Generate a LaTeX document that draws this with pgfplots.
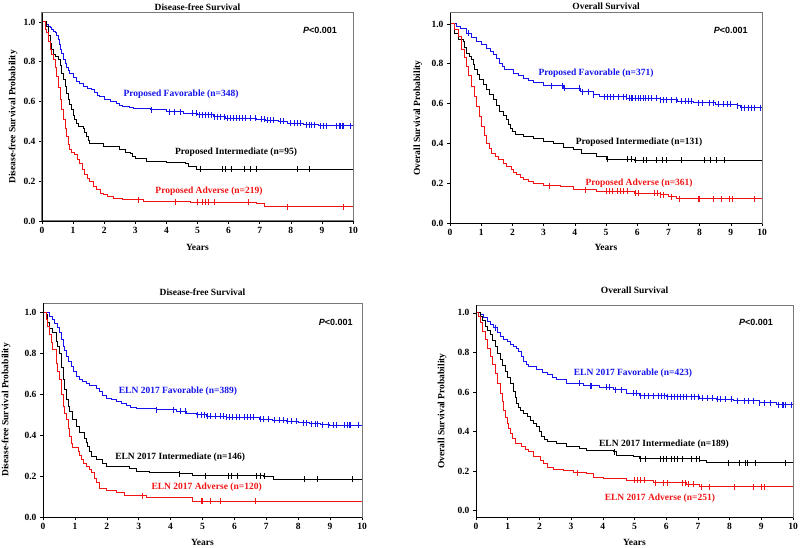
\documentclass[border=0pt]{standalone}
\usepackage{fontspec}
\setmainfont{Liberation Serif}
\setsansfont{Liberation Sans}
\usepackage{pgfplots}
\pgfplotsset{compat=1.18}

\definecolor{kmblue}{RGB}{20,20,235}
\definecolor{kmred}{RGB}{240,20,20}
\definecolor{framegray}{RGB}{120,120,120}
\newcommand\lf{\bfseries\fontsize{9}{11}\selectfont}
\newcommand\tf{\bfseries\fontsize{9.5}{11}\selectfont}
\newcommand\cf{\bfseries\fontsize{9.5}{11}\selectfont}
\newcommand\pf{\sffamily\bfseries\fontsize{9}{11}\selectfont}

\pgfplotsset{
  km/.style={
    scale only axis, anchor=south west,
    xmin=0, xmax=10, ymin=0,
    axis line style={draw=framegray, line width=1pt},
    xtick pos=left, ytick pos=left,
    tick align=outside, major tick length=3pt,
    tick style={black, line width=0.6pt},
    xtick={0,1,2,3,4,5,6,7,8,9,10},
    xticklabels={0,1,2,3,4,5,6,7,8,9,10},
    ytick={0,0.2,0.4,0.6,0.8,1},
    yticklabels={0.0,0.2,0.4,0.6,0.8,1.0},
    tick label style={font=\tf},
    label style={font=\tf},
    every axis title shift=0pt,
    title style={font=\tf, anchor=center},
    xlabel={Years},
    clip=false,
    extra description/.code={
      \draw[framegray, line width=1pt] (0,1) -- (1,1) -- (1,0);
      \draw[black, line width=0.8pt] (0,1) -- (0,0) -- (1,0);},
  },
  kmline/.style={const plot, line width=1pt, mark=none},
  cens/.style={only marks, mark=|, mark size=3pt, mark options={line width=0.7pt}},
}

\begin{document}
\begin{tikzpicture}[x=1pt,y=1pt]
\useasboundingbox (0,0) rectangle (800,547);

% ---- top left: proposed, DFS
\begin{axis}[km, at={(42pt,326pt)}, width=311pt, height=208pt, ymax=1.045,
  title={Disease-free Survival},
  title style={at={(axis description cs:0.5,1.029)}},
  xlabel style={at={(axis description cs:0.5,-0.125)}, anchor=center},
  ylabel={Disease-free Survival Probability},
  ylabel style={at={(axis description cs:-0.093,0.5)}, anchor=center}]
\addplot[kmline, kmblue] coordinates {(0,1)(0.1,1)(0.15,0.985)(0.2,0.975)(0.26,0.97)(0.32,0.962)(0.38,0.952)(0.42,0.945)(0.47,0.93)(0.52,0.91)(0.56,0.885)(0.6,0.86)(0.63,0.84)(0.68,0.81)(0.74,0.79)(0.8,0.77)(0.85,0.755)(0.9,0.74)(1.0,0.72)(1.1,0.70)(1.2,0.69)(1.33,0.676)(1.45,0.666)(1.6,0.66)(1.7,0.645)(1.8,0.632)(1.86,0.626)(2.0,0.61)(2.2,0.60)(2.4,0.59)(2.5,0.582)(2.6,0.575)(2.8,0.57)(2.94,0.567)(3.5,0.56)(4.0,0.55)(4.55,0.542)(5.0,0.534)(5.5,0.525)(5.9,0.517)(6.9,0.512)(7.2,0.505)(7.6,0.5)(7.9,0.49)(8.4,0.483)(8.9,0.478)(10,0.478)};
\addplot[cens, kmblue] coordinates {(3.53,0.56)(4.1,0.55)(4.25,0.55)(4.45,0.55)(4.85,0.542)(4.95,0.542)(5.05,0.534)(5.15,0.534)(5.25,0.534)(5.35,0.534)(5.45,0.534)(5.55,0.525)(5.65,0.525)(5.75,0.525)(5.85,0.525)(5.95,0.517)(6.05,0.517)(6.15,0.517)(6.25,0.517)(6.35,0.517)(6.45,0.517)(6.55,0.517)(6.7,0.517)(6.85,0.517)(7.05,0.512)(7.15,0.512)(7.25,0.505)(7.35,0.505)(7.45,0.505)(7.65,0.5)(7.75,0.5)(8.0,0.49)(8.1,0.49)(8.2,0.49)(8.3,0.49)(8.5,0.483)(8.6,0.483)(8.65,0.483)(8.75,0.483)(8.95,0.478)(9.05,0.478)(9.15,0.478)(9.45,0.478)(9.55,0.478)(9.6,0.478)(9.65,0.478)(9.7,0.478)(9.9,0.478)};
\addplot[kmline, black] coordinates {(0,1)(0.1,1)(0.15,0.978)(0.2,0.93)(0.26,0.894)(0.31,0.86)(0.36,0.835)(0.45,0.825)(0.52,0.81)(0.58,0.78)(0.63,0.74)(0.68,0.71)(0.74,0.676)(0.8,0.64)(0.85,0.61)(0.9,0.585)(0.95,0.56)(1.0,0.53)(1.06,0.508)(1.12,0.49)(1.17,0.475)(1.33,0.466)(1.38,0.445)(1.44,0.424)(1.5,0.405)(1.54,0.39)(1.86,0.388)(1.97,0.374)(2.5,0.357)(2.7,0.345)(2.83,0.337)(2.9,0.325)(3.0,0.315)(3.37,0.30)(4.0,0.294)(4.6,0.287)(4.7,0.273)(4.97,0.26)(10,0.26)};
\addplot[cens, black] coordinates {(5.1,0.26)(5.8,0.26)(5.9,0.26)(6.1,0.26)(6.5,0.26)(6.7,0.26)(6.9,0.26)(8.2,0.26)(8.6,0.26)};
\addplot[kmline, kmred] coordinates {(0,1)(0.08,1)(0.12,0.96)(0.15,0.945)(0.2,0.9)(0.26,0.86)(0.31,0.835)(0.36,0.81)(0.42,0.77)(0.47,0.727)(0.52,0.67)(0.58,0.61)(0.63,0.56)(0.69,0.508)(0.74,0.465)(0.79,0.424)(0.85,0.385)(0.9,0.357)(0.95,0.345)(1.06,0.332)(1.15,0.31)(1.22,0.29)(1.3,0.26)(1.38,0.232)(1.46,0.215)(1.54,0.198)(1.65,0.175)(1.76,0.156)(1.87,0.14)(1.97,0.131)(2.1,0.125)(2.3,0.114)(2.6,0.106)(3.26,0.097)(4.76,0.094)(6.9,0.086)(7.17,0.072)(10,0.072)};
\addplot[cens, kmred] coordinates {(3.1,0.106)(4.3,0.097)(5.0,0.094)(5.15,0.094)(5.25,0.094)(5.35,0.094)(5.55,0.094)(6.65,0.094)(7.9,0.072)(9.7,0.072)};
\node[font=\cf, text=kmblue] at (axis cs:4.47,0.638) {Proposed Favorable (n=348)};
\node[font=\cf, text=black] at (axis cs:6.24,0.347) {Proposed Intermediate (n=95)};
\node[font=\cf, text=kmred] at (axis cs:5.37,0.151) {Proposed Adverse (n=219)};
\node[font=\pf] at (axis cs:8.94,0.96) {\textit{P}<0.001};
\end{axis}

% ---- top right: proposed, OS
\begin{axis}[km, at={(450pt,324pt)}, width=312pt, height=210pt, ymax=1.055,
  title={Overall Survival},
  title style={at={(axis description cs:0.5,1.033)}},
  xlabel style={at={(axis description cs:0.5,-0.114)}, anchor=center},
  ylabel={Overall Survival Probability},
  ylabel style={at={(axis description cs:-0.103,0.5)}, anchor=center}]
\addplot[kmline, kmblue] coordinates {(0,1)(0.1,1)(0.21,0.987)(0.35,0.975)(0.53,0.953)(0.7,0.93)(0.86,0.91)(1.0,0.895)(1.18,0.877)(1.3,0.86)(1.39,0.845)(1.5,0.825)(1.6,0.803)(1.68,0.785)(1.76,0.77)(2.03,0.752)(2.2,0.74)(2.35,0.727)(2.5,0.715)(2.67,0.705)(3.0,0.689)(3.64,0.677)(4.17,0.66)(4.6,0.644)(4.8,0.635)(5.67,0.627)(6.74,0.619)(7.3,0.612)(7.8,0.605)(8.5,0.597)(9.2,0.589)(9.3,0.58)(10,0.58)};
\addplot[cens, kmblue] coordinates {(0.6,0.953)(3.25,0.689)(3.6,0.689)(3.65,0.677)(4.15,0.677)(4.25,0.66)(4.45,0.66)(4.6,0.644)(4.95,0.635)(5.05,0.635)(5.15,0.635)(5.25,0.635)(5.4,0.635)(5.55,0.635)(5.65,0.635)(5.75,0.627)(5.8,0.627)(5.85,0.627)(5.95,0.627)(6.05,0.627)(6.1,0.627)(6.2,0.627)(6.25,0.627)(6.35,0.627)(6.45,0.627)(6.6,0.627)(6.75,0.619)(6.85,0.619)(6.95,0.619)(7.1,0.619)(7.25,0.619)(7.4,0.612)(7.55,0.612)(7.65,0.612)(7.75,0.612)(7.95,0.605)(8.1,0.605)(8.3,0.605)(8.45,0.605)(8.6,0.597)(8.75,0.597)(8.9,0.597)(9.0,0.597)(9.2,0.589)(9.35,0.58)(9.45,0.58)(9.55,0.58)(9.65,0.58)(9.75,0.58)(9.95,0.58)};
\addplot[kmline, black] coordinates {(0,1)(0.1,1)(0.16,0.953)(0.27,0.92)(0.43,0.911)(0.48,0.88)(0.53,0.853)(0.62,0.835)(0.7,0.82)(0.75,0.795)(0.8,0.77)(0.88,0.745)(0.96,0.719)(1.07,0.695)(1.18,0.669)(1.28,0.645)(1.39,0.619)(1.5,0.59)(1.6,0.56)(1.7,0.54)(1.82,0.518)(1.88,0.497)(1.93,0.477)(2.0,0.46)(2.09,0.443)(2.35,0.435)(2.67,0.426)(3.0,0.41)(3.32,0.398)(3.64,0.381)(3.96,0.368)(4.22,0.351)(4.7,0.334)(5.03,0.321)(5.9,0.314)(10,0.314)};
\addplot[cens, black] coordinates {(5.05,0.321)(5.7,0.321)(5.8,0.321)(5.95,0.314)(6.2,0.314)(6.3,0.314)(6.6,0.314)(6.8,0.314)(6.95,0.314)(7.4,0.314)(8.15,0.314)(8.35,0.314)(8.55,0.314)(8.8,0.314)};
\addplot[kmline, kmred] coordinates {(0,1)(0.08,1)(0.15,0.97)(0.27,0.936)(0.37,0.87)(0.45,0.83)(0.53,0.786)(0.6,0.74)(0.7,0.686)(0.78,0.635)(0.86,0.585)(0.94,0.535)(1.02,0.485)(1.1,0.44)(1.18,0.401)(1.26,0.375)(1.34,0.351)(1.45,0.333)(1.55,0.318)(1.7,0.3)(1.82,0.284)(1.98,0.268)(2.05,0.255)(2.14,0.242)(2.25,0.228)(2.35,0.217)(2.5,0.207)(2.67,0.2)(3.0,0.187)(3.53,0.181)(3.96,0.167)(4.7,0.159)(5.9,0.15)(6.74,0.142)(7.0,0.133)(7.27,0.122)(10,0.122)};
\addplot[cens, kmred] coordinates {(3.2,0.187)(4.35,0.167)(5.0,0.159)(5.1,0.159)(5.2,0.159)(5.35,0.159)(5.45,0.159)(5.55,0.159)(5.7,0.159)(5.95,0.15)(6.05,0.15)(6.55,0.15)(6.65,0.15)(6.75,0.142)(6.85,0.142)(7.1,0.133)(7.35,0.122)(7.95,0.122)(8.0,0.122)(8.45,0.122)(8.7,0.122)(8.95,0.122)(9.05,0.122)(9.75,0.122)};
\node[font=\cf, text=kmblue] at (axis cs:4.68,0.754) {Proposed Favorable (n=371)};
\node[font=\cf, text=black] at (axis cs:6.06,0.407) {Proposed Intermediate (n=131)};
\node[font=\cf, text=kmred] at (axis cs:6.06,0.20) {Proposed Adverse (n=361)};
\node[font=\pf] at (axis cs:9.0,0.97) {\textit{P}<0.001};
\end{axis}

% ---- bottom left: ELN 2017, DFS
\begin{axis}[km, at={(43pt,30pt)}, width=319pt, height=214pt, ymax=1.044,
  title={Disease-free Survival},
  title style={at={(axis description cs:0.5,1.051)}},
  xlabel style={at={(axis description cs:0.5,-0.117)}, anchor=center},
  ylabel={Disease-free Survival Probability},
  ylabel style={at={(axis description cs:-0.116,0.5)}, anchor=center}]
\addplot[kmline, kmblue] coordinates {(0,1)(0.1,1)(0.21,0.979)(0.3,0.962)(0.37,0.946)(0.45,0.925)(0.52,0.898)(0.58,0.865)(0.63,0.833)(0.68,0.81)(0.73,0.784)(0.8,0.76)(0.89,0.735)(0.96,0.71)(1.04,0.686)(1.15,0.672)(1.25,0.662)(1.35,0.65)(1.46,0.641)(1.67,0.629)(1.78,0.613)(1.88,0.595)(1.99,0.58)(2.15,0.572)(2.3,0.564)(2.45,0.553)(2.61,0.543)(2.75,0.535)(2.93,0.527)(3.55,0.524)(4.18,0.515)(4.49,0.507)(4.81,0.499)(5.12,0.491)(5.75,0.486)(6.79,0.478)(7.2,0.472)(7.63,0.467)(8.0,0.46)(8.36,0.455)(8.7,0.45)(8.99,0.447)(10,0.447)};
\addplot[cens, kmblue] coordinates {(3.55,0.524)(4.1,0.524)(4.3,0.515)(4.45,0.515)(4.85,0.499)(4.95,0.499)(5.05,0.499)(5.15,0.491)(5.25,0.491)(5.4,0.491)(5.55,0.491)(5.65,0.491)(5.75,0.486)(5.85,0.486)(5.95,0.486)(6.05,0.486)(6.15,0.486)(6.3,0.486)(6.4,0.486)(6.5,0.486)(6.6,0.486)(6.8,0.478)(6.9,0.478)(7.05,0.478)(7.25,0.472)(7.4,0.472)(7.55,0.472)(7.65,0.467)(7.8,0.467)(7.95,0.467)(8.15,0.46)(8.25,0.46)(8.4,0.455)(8.55,0.455)(8.6,0.455)(8.75,0.45)(8.95,0.45)(9.1,0.447)(9.2,0.447)(9.45,0.447)(9.55,0.447)(9.6,0.447)(9.65,0.447)(9.9,0.447)};
\addplot[kmline, black] coordinates {(0,1)(0.1,0.987)(0.15,0.95)(0.21,0.922)(0.31,0.898)(0.42,0.857)(0.47,0.83)(0.52,0.8)(0.58,0.73)(0.63,0.67)(0.68,0.62)(0.73,0.572)(0.79,0.54)(0.84,0.515)(0.94,0.475)(1.04,0.442)(1.15,0.41)(1.31,0.385)(1.36,0.365)(1.41,0.345)(1.47,0.32)(1.52,0.296)(1.67,0.28)(1.88,0.263)(1.99,0.247)(2.72,0.239)(2.93,0.223)(3.34,0.215)(4.28,0.211)(4.7,0.202)(6.9,0.198)(7.21,0.185)(10,0.185)};
\addplot[cens, black] coordinates {(4.28,0.211)(5.1,0.202)(5.8,0.202)(5.9,0.202)(6.1,0.202)(6.7,0.202)(6.8,0.202)(6.95,0.198)(8.2,0.185)(8.6,0.185)(9.7,0.185)};
\addplot[kmline, kmred] coordinates {(0,1)(0.05,1)(0.1,0.963)(0.15,0.93)(0.21,0.89)(0.26,0.85)(0.31,0.816)(0.42,0.751)(0.47,0.71)(0.52,0.67)(0.58,0.6)(0.63,0.54)(0.68,0.505)(0.73,0.475)(0.79,0.43)(0.84,0.393)(0.89,0.36)(0.94,0.337)(1.1,0.32)(1.15,0.3)(1.2,0.28)(1.28,0.262)(1.36,0.247)(1.45,0.23)(1.52,0.215)(1.6,0.19)(1.67,0.166)(1.78,0.141)(1.99,0.13)(2.3,0.12)(2.56,0.104)(3.24,0.093)(4.7,0.076)(10,0.076)};
\addplot[cens, kmred] coordinates {(3.1,0.104)(4.95,0.076)(5.0,0.076)(5.25,0.076)(5.55,0.076)(6.65,0.076)};
\node[font=\cf, text=kmblue] at (axis cs:4.23,0.615) {ELN 2017 Favorable (n=389)};
\node[font=\cf, text=black] at (axis cs:4.3,0.293) {ELN 2017 Intermediate (n=146)};
\node[font=\cf, text=kmred] at (axis cs:5.13,0.146) {ELN 2017 Adverse (n=120)};
\node[font=\pf] at (axis cs:9.18,0.951) {\textit{P}<0.001};
\end{axis}

% ---- bottom right: ELN 2017, OS
\begin{axis}[km, at={(476pt,30pt)}, width=317pt, height=212pt, ymin=-0.033, ymax=1.04,
  title={Overall Survival},
  title style={at={(axis description cs:0.5,1.071)}},
  xlabel style={at={(axis description cs:0.5,-0.118)}, anchor=center},
  ylabel={Overall Survival Probability},
  ylabel style={at={(axis description cs:-0.107,0.5)}, anchor=center}]
\addplot[kmline, kmblue] coordinates {(0,1)(0.14,0.99)(0.25,0.975)(0.35,0.958)(0.45,0.94)(0.56,0.924)(0.67,0.9)(0.77,0.881)(0.88,0.867)(0.98,0.856)(1.1,0.842)(1.19,0.83)(1.27,0.818)(1.34,0.805)(1.42,0.78)(1.5,0.754)(1.58,0.74)(1.66,0.729)(1.92,0.712)(2.1,0.698)(2.24,0.686)(2.4,0.672)(2.55,0.661)(2.86,0.644)(3.39,0.631)(3.91,0.624)(4.33,0.61)(4.75,0.593)(5.17,0.58)(6.01,0.576)(7.06,0.568)(7.6,0.562)(8.11,0.556)(8.95,0.546)(9.48,0.534)(10,0.532)};
\addplot[cens, kmblue] coordinates {(0.6,0.924)(3.25,0.644)(3.6,0.631)(3.65,0.631)(4.1,0.624)(4.2,0.624)(4.4,0.61)(4.6,0.61)(4.95,0.593)(5.05,0.593)(5.2,0.58)(5.3,0.58)(5.45,0.58)(5.6,0.58)(5.75,0.58)(5.85,0.58)(5.95,0.58)(6.05,0.576)(6.15,0.576)(6.25,0.576)(6.35,0.576)(6.45,0.576)(6.55,0.576)(6.65,0.576)(6.8,0.576)(6.9,0.576)(7.0,0.576)(7.15,0.568)(7.3,0.568)(7.45,0.568)(7.6,0.562)(7.7,0.562)(7.85,0.562)(8.05,0.562)(8.25,0.556)(8.45,0.556)(8.6,0.556)(8.75,0.556)(8.95,0.546)(9.1,0.546)(9.3,0.546)(9.55,0.534)(9.65,0.534)(9.7,0.534)(9.75,0.534)(9.95,0.534)};
\addplot[kmline, black] coordinates {(0,1)(0.14,0.983)(0.22,0.96)(0.29,0.932)(0.37,0.91)(0.45,0.89)(0.53,0.86)(0.61,0.83)(0.69,0.795)(0.77,0.763)(0.84,0.733)(0.92,0.703)(1.0,0.673)(1.08,0.644)(1.19,0.602)(1.24,0.572)(1.29,0.542)(1.35,0.522)(1.4,0.508)(1.5,0.49)(1.61,0.475)(1.72,0.457)(1.82,0.441)(1.92,0.424)(2.0,0.398)(2.08,0.373)(2.16,0.358)(2.24,0.347)(2.55,0.339)(2.86,0.322)(3.28,0.314)(3.49,0.305)(4.33,0.297)(4.44,0.28)(4.96,0.271)(5.17,0.263)(7.06,0.254)(7.27,0.242)(10,0.242)};
\addplot[cens, black] coordinates {(4.35,0.297)(5.2,0.263)(5.35,0.263)(5.8,0.263)(5.9,0.263)(6.0,0.263)(6.15,0.263)(6.25,0.263)(6.35,0.263)(6.5,0.263)(6.8,0.263)(6.95,0.263)(7.05,0.263)(7.95,0.242)(8.3,0.242)(8.5,0.242)(8.55,0.242)(8.8,0.242)(9.75,0.242)};
\addplot[kmline, kmred] coordinates {(0,1)(0.07,0.98)(0.14,0.949)(0.22,0.905)(0.29,0.864)(0.37,0.82)(0.45,0.78)(0.53,0.737)(0.61,0.695)(0.69,0.645)(0.77,0.593)(0.82,0.55)(0.87,0.508)(0.93,0.47)(0.98,0.441)(1.03,0.415)(1.08,0.39)(1.16,0.365)(1.24,0.339)(1.45,0.322)(1.55,0.31)(1.66,0.297)(1.82,0.271)(2.03,0.254)(2.14,0.237)(2.24,0.22)(2.44,0.208)(2.76,0.2)(3.07,0.19)(3.49,0.186)(3.7,0.169)(4.02,0.161)(4.75,0.153)(5.59,0.141)(6.64,0.132)(7.06,0.119)(10,0.119)};
\addplot[cens, kmred] coordinates {(3.2,0.19)(5.0,0.153)(5.1,0.153)(5.2,0.153)(5.3,0.153)(5.65,0.141)(5.9,0.141)(6.05,0.141)(6.5,0.141)(6.6,0.141)(6.7,0.132)(6.85,0.132)(7.1,0.119)(7.35,0.119)(8.15,0.119)(8.75,0.119)(9.0,0.119)(9.1,0.119)};
\node[font=\cf, text=kmblue] at (axis cs:4.95,0.695) {ELN 2017 Favorable (n=423)};
\node[font=\cf, text=black] at (axis cs:5.93,0.335) {ELN 2017 Intermediate (n=189)};
\node[font=\cf, text=kmred] at (axis cs:5.8,0.06) {ELN 2017 Adverse (n=251)};
\node[font=\pf] at (axis cs:8.83,0.95) {\textit{P}<0.001};
\end{axis}
\end{tikzpicture}
\end{document}
